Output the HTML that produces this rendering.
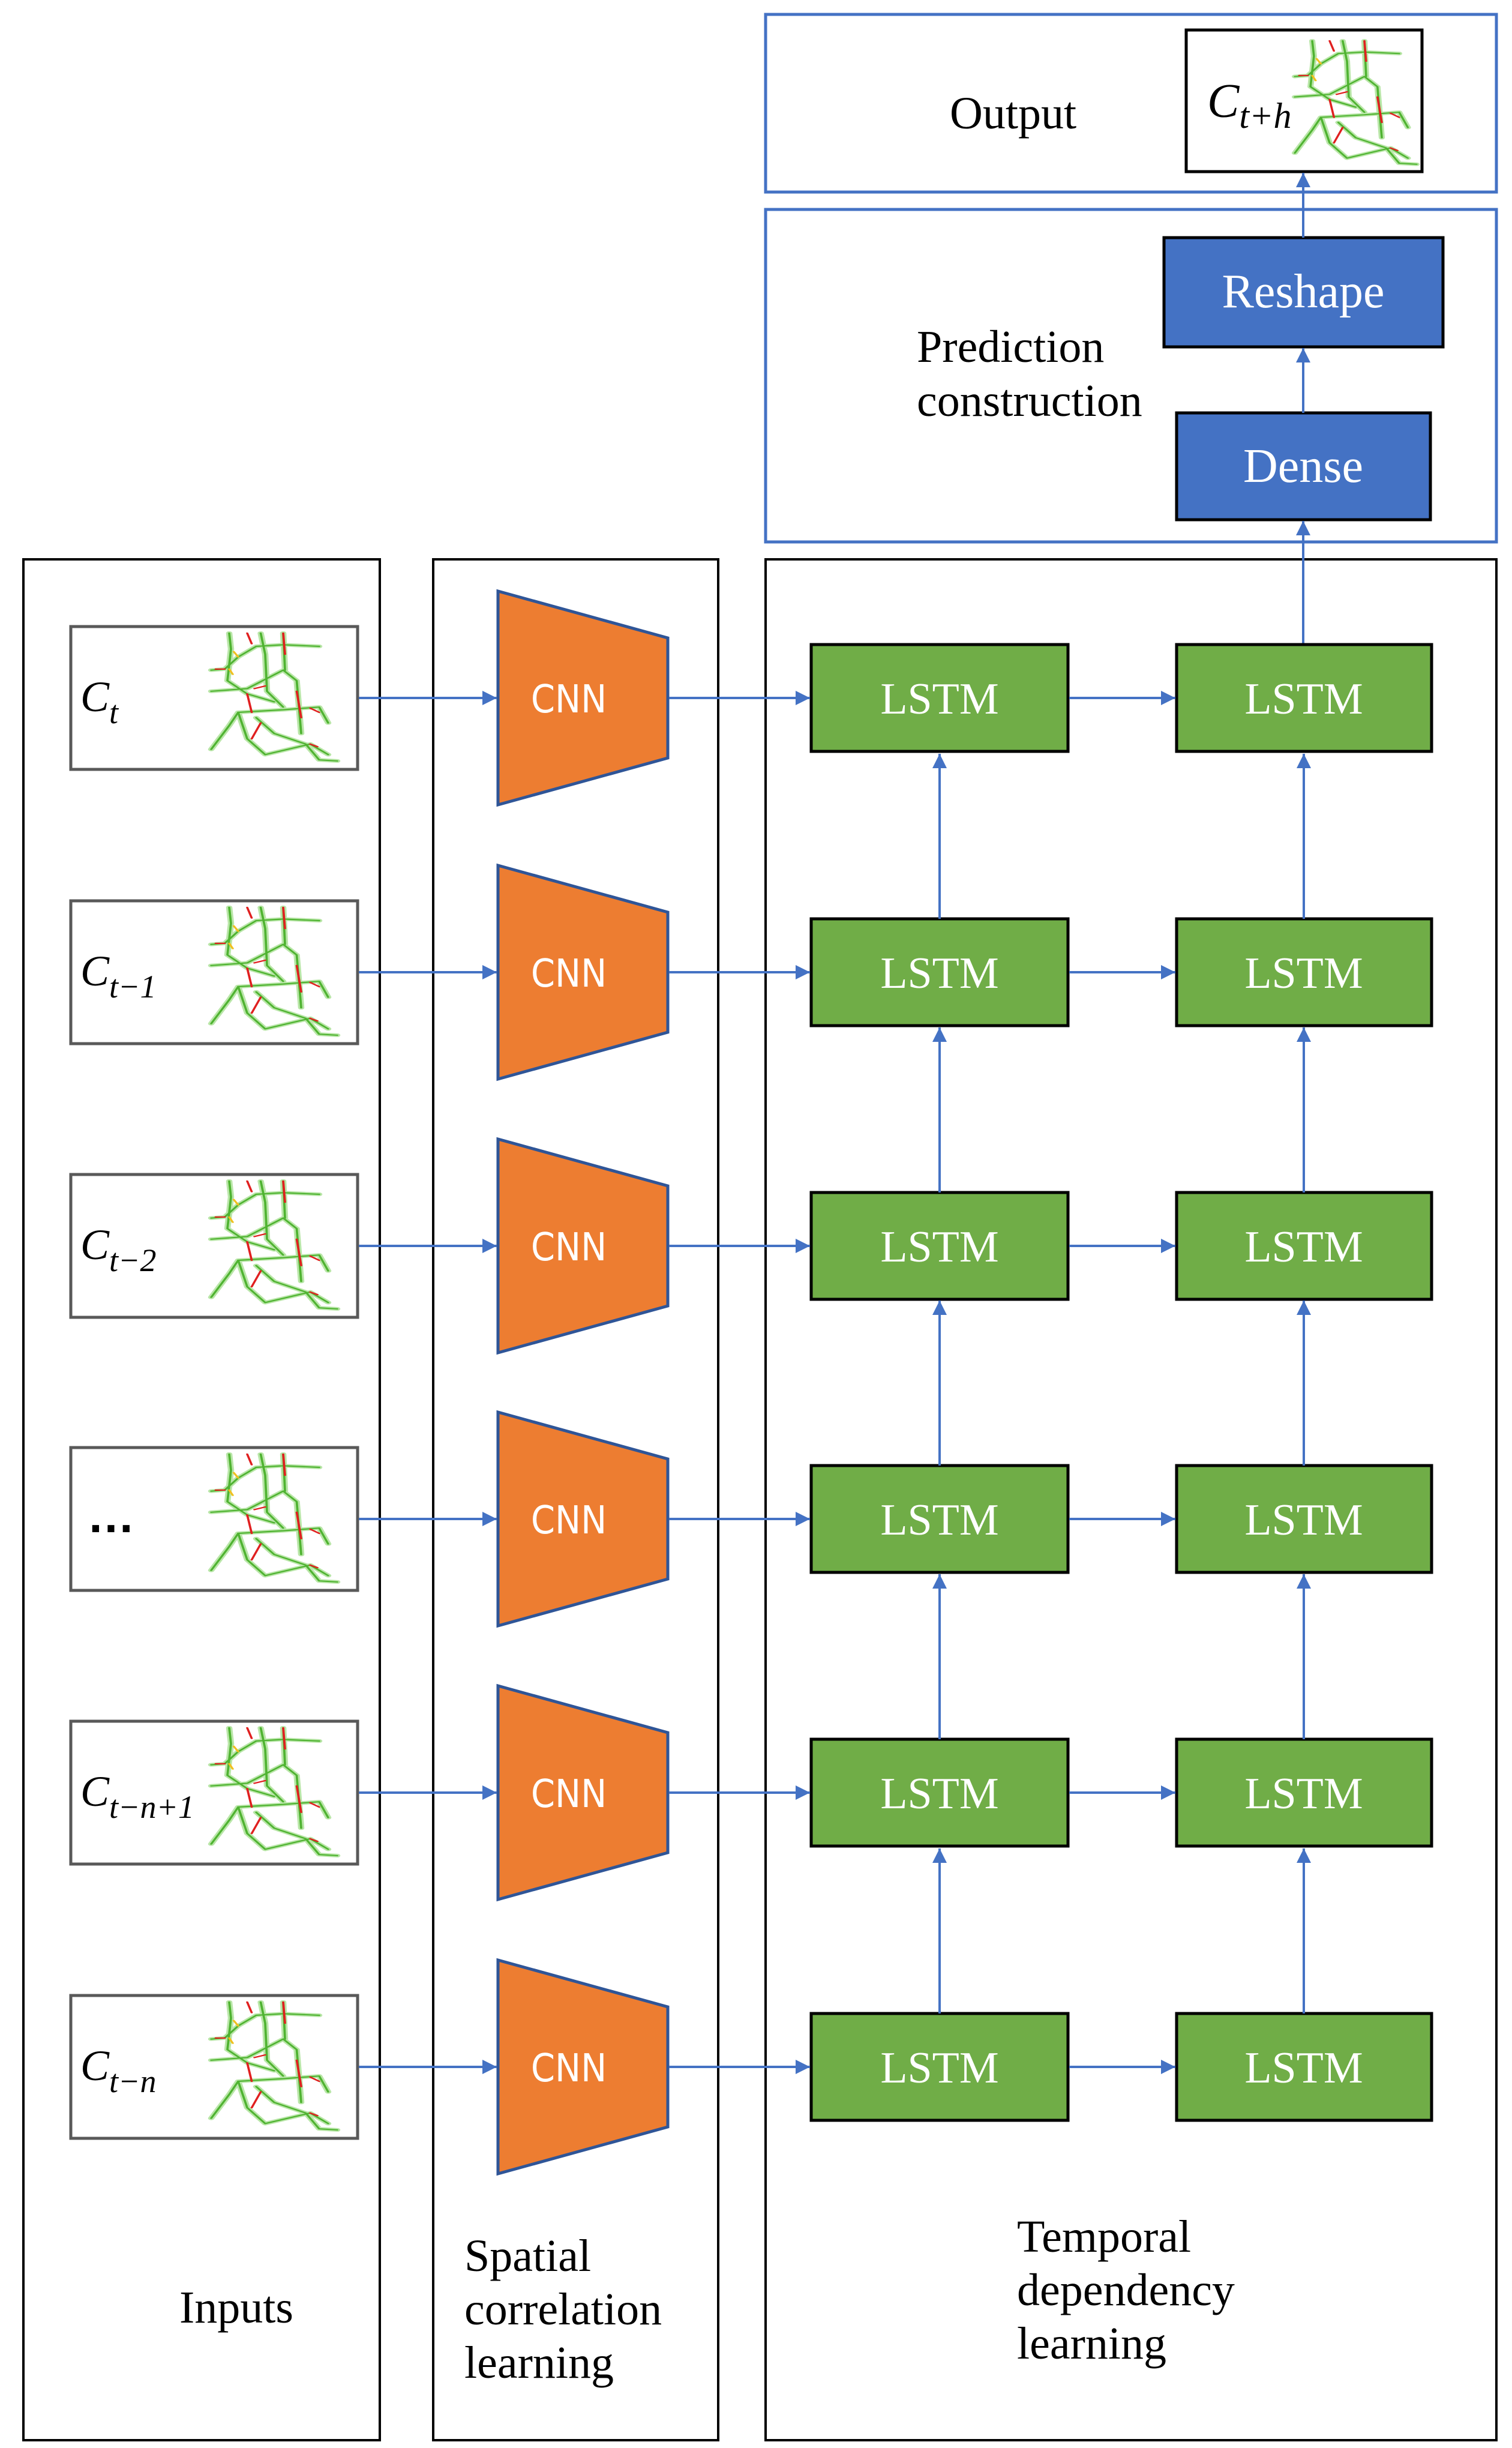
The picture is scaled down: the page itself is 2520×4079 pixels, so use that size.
<!DOCTYPE html>
<html><head><meta charset="utf-8"><style>html,body{margin:0;padding:0;background:#fff}svg{display:block}</style></head>
<body>
<svg width="2520" height="4079" viewBox="0 0 2520 4079" xmlns="http://www.w3.org/2000/svg">
<defs>
<marker id="ah" viewBox="0 0 10 10" refX="10" refY="5" markerWidth="6" markerHeight="6" markerUnits="strokeWidth" orient="auto"><path d="M0,0 L10,5 L0,10 z" fill="#4472C4"/></marker>
<g id="map" fill="none" stroke-linecap="round" stroke-linejoin="round">
 <g stroke="#b9e6a8" stroke-width="7">
  <path d="M20,0 L22,30 L18,90 L40,115 L70,130"/>
  <path d="M55,0 L60,40 L62,110 L80,140"/>
  <path d="M80,0 L82,70"/>
  <path d="M0,70 L15,68 L30,45 L50,25 L80,22 L120,25"/>
  <path d="M0,110 L40,105 L80,70 L95,90 L100,190"/>
  <path d="M30,150 L80,145 L120,140 L130,170"/>
  <path d="M0,220 L20,175 L30,150 L40,200 L60,230 L110,210 L130,230"/>
  <path d="M50,160 L70,190 L105,210 L120,240 L140,242"/>
 </g>
 <g stroke="#4fb331" stroke-width="2.5">
  <path d="M20,0 L22,30 L18,90 L40,115 L70,130"/>
  <path d="M55,0 L60,40 L62,110 L80,140"/>
  <path d="M80,0 L82,70"/>
  <path d="M0,70 L15,68 L30,45 L50,25 L80,22 L120,25"/>
  <path d="M0,110 L40,105 L80,70 L95,90 L100,190"/>
  <path d="M30,150 L80,145 L120,140 L130,170"/>
  <path d="M0,220 L20,175 L30,150 L40,200 L60,230 L110,210 L130,230"/>
  <path d="M50,160 L70,190 L105,210 L120,240 L140,242"/>
 </g>
 <g stroke="#e02020" stroke-width="2.5">
  <path d="M40,0 L45,20"/><path d="M80,0 L82,40"/><path d="M5,68 L15,68"/>
  <path d="M48,105 L60,100"/><path d="M40,115 L45,150"/><path d="M110,142 L120,150"/>
  <path d="M95,110 L100,160"/><path d="M45,200 L55,170"/><path d="M110,210 L118,215"/>
 </g>
 <g stroke="#f0c020" stroke-width="2.5"><path d="M25,35 L30,45"/><path d="M20,68 L24,78"/></g>
</g>
<g id="row">
 <rect x="118" y="-119" width="478" height="238" fill="#fff" stroke="#595959" stroke-width="5"/>
 <use href="#map" transform="translate(352,-108) scale(1.5,0.88)"/>
 <polygon points="830,-178 1113,-100 1113,100 830,178" fill="#ED7D31" stroke="#2F5597" stroke-width="5"/>
 <text x="948" y="24" text-anchor="middle" font-family="DejaVu Sans Condensed, Liberation Sans Narrow, sans-serif" font-size="64" fill="#fff">CNN</text>
 <rect x="1352" y="-89" width="428" height="178" fill="#70AD47" stroke="#000" stroke-width="5"/>
 <rect x="1961" y="-89" width="425" height="178" fill="#70AD47" stroke="#000" stroke-width="5"/>
 <text x="1566" y="26" text-anchor="middle" font-family="Liberation Serif, serif" font-size="74" fill="#fff">LSTM</text>
 <text x="2173" y="26" text-anchor="middle" font-family="Liberation Serif, serif" font-size="74" fill="#fff">LSTM</text>
 <g stroke="#4472C4" stroke-width="4" marker-end="url(#ah)">
  <line x1="598" y1="0" x2="828" y2="0"/>
  <line x1="1115" y1="0" x2="1350" y2="0"/>
  <line x1="1782" y1="0" x2="1959" y2="0"/>
 </g>
</g>
<g id="up" stroke="#4472C4" stroke-width="4" marker-end="url(#ah)">
 <line x1="1566" y1="-89" x2="1566" y2="-364"/>
 <line x1="2173" y1="-89" x2="2173" y2="-364"/>
</g>
</defs>

<rect x="39" y="932" width="594" height="3134" fill="none" stroke="#000" stroke-width="4"/>
<rect x="722" y="932" width="475" height="3134" fill="none" stroke="#000" stroke-width="4"/>
<rect x="1276" y="932" width="1218" height="3134" fill="none" stroke="#000" stroke-width="4"/>
<rect x="1276" y="24" width="1218" height="296" fill="none" stroke="#4472C4" stroke-width="5"/>
<rect x="1276" y="349" width="1218" height="554" fill="none" stroke="#4472C4" stroke-width="5"/>

<g font-family="Liberation Serif, serif" font-size="76" fill="#000">
 <text x="1583" y="214">Output</text>
 <text x="1528" y="603">Prediction</text>
 <text x="1528" y="693">construction</text>
 <text x="299" y="3870">Inputs</text>
 <text x="774" y="3784">Spatial</text>
 <text x="774" y="3873">correlation</text>
 <text x="774" y="3962">learning</text>
 <text x="1695" y="3752">Temporal</text>
 <text x="1695" y="3841">dependency</text>
 <text x="1695" y="3930">learning</text>
</g>

<rect x="1977" y="50" width="393" height="236" fill="#fff" stroke="#000" stroke-width="5"/>
<use href="#map" transform="translate(2158,68) scale(1.45,0.85)"/>
<text x="2012" y="195" font-family="Liberation Serif, serif" font-style="italic" font-size="80">C<tspan font-size="60" dy="18">t+h</tspan></text>

<rect x="1940" y="396" width="465" height="182" fill="#4472C4" stroke="#000" stroke-width="5"/>
<text x="2172" y="512" text-anchor="middle" font-family="Liberation Serif, serif" font-size="80" fill="#fff">Reshape</text>
<rect x="1961" y="688" width="423" height="178" fill="#4472C4" stroke="#000" stroke-width="5"/>
<text x="2172" y="803" text-anchor="middle" font-family="Liberation Serif, serif" font-size="80" fill="#fff">Dense</text>

<g stroke="#4472C4" stroke-width="4" fill="none" marker-end="url(#ah)">
 <line x1="2172" y1="396" x2="2172" y2="288"/>
 <line x1="2172" y1="688" x2="2172" y2="580"/>
 <line x1="2172" y1="1073" x2="2172" y2="868"/>
</g>

<use href="#row" transform="translate(0,1163)"/>
<use href="#row" transform="translate(0,1620)"/>
<use href="#row" transform="translate(0,2076)"/>
<use href="#row" transform="translate(0,2531)"/>
<use href="#row" transform="translate(0,2987)"/>
<use href="#row" transform="translate(0,3444)"/>
<use href="#up" transform="translate(0,1620)"/>
<use href="#up" transform="translate(0,2076)"/>
<use href="#up" transform="translate(0,2531)"/>
<use href="#up" transform="translate(0,2987)"/>
<use href="#up" transform="translate(0,3444)"/>

<g font-family="Liberation Serif, serif" font-style="italic" font-size="72" fill="#000">
 <text x="134" y="1185">C<tspan font-size="54" dy="20">t</tspan></text>
 <text x="134" y="1642">C<tspan font-size="54" dy="20">t−1</tspan></text>
 <text x="134" y="2098">C<tspan font-size="54" dy="20">t−2</tspan></text>
 <text x="134" y="3009">C<tspan font-size="54" dy="20">t−n+1</tspan></text>
 <text x="134" y="3466">C<tspan font-size="54" dy="20">t−n</tspan></text>
</g>
<text x="145" y="2553" font-family="Liberation Sans, sans-serif" font-weight="bold" font-size="80">…</text>
</svg>
</body></html>
